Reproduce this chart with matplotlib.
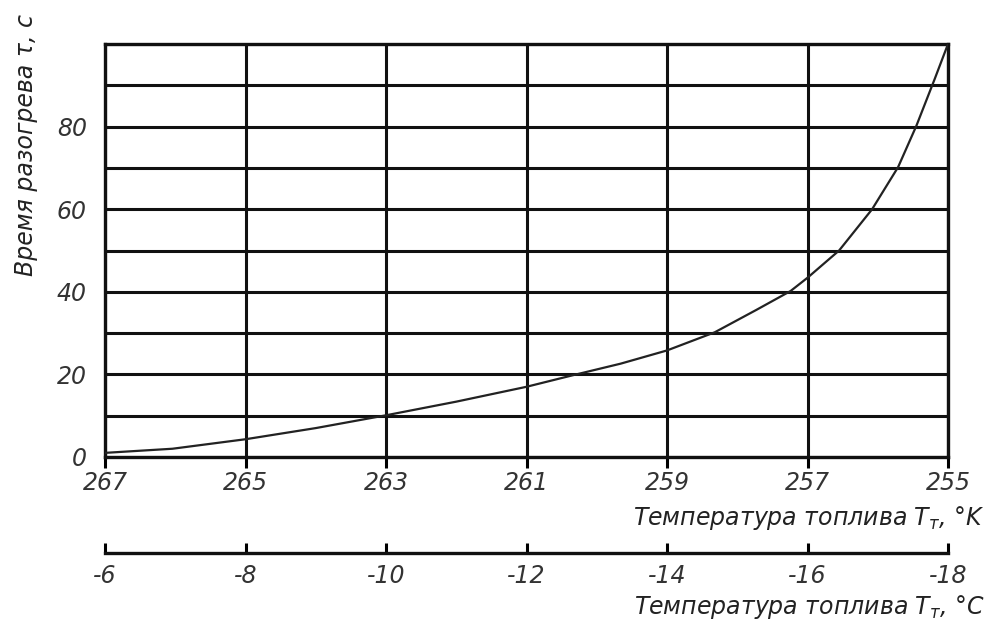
import numpy as np
import matplotlib
matplotlib.use("Agg")
from matplotlib import pyplot as plt

temp_k = [267, 266.04, 265, 264, 263, 262, 261, 260.34, 259.66, 259, 258.32,
          257.73, 257.24, 257, 256.55, 256.08, 255.71, 255.45, 255.19, 255]
tau = [1.0, 2.0, 4.3, 7.0, 10.1, 13.4, 17.0, 19.8, 22.6, 25.8, 30.2,
       35.6, 40.2, 43.4, 50.0, 60.0, 70.2, 80.2, 91.5, 100.0]
k_ticks = [267, 265, 263, 261, 259, 257, 255]
c_ticks = [-6, -8, -10, -12, -14, -16, -18]
y_labels = [0, 20, 40, 60, 80]

plt.rcParams['font.family'] = ['DejaVu Sans']
plt.rcParams['mathtext.fontset'] = 'custom'
plt.rcParams['mathtext.it'] = 'DejaVu Sans:italic'
plt.rcParams['mathtext.rm'] = 'DejaVu Sans'

W, H = 993, 630
fig = plt.figure(figsize=(W/100, H/100), dpi=100)
L, R, T, B = 105, 948, 44, 457
ax = fig.add_axes([L/W, 1-B/H, (R-L)/W, (B-T)/H])

ax.plot(temp_k, tau, color='#222222', lw=1.6, zorder=3)
ax.set_xlim(267, 255)
ax.set_ylim(0, 100)
ax.set_xticks(k_ticks)
ax.set_yticks(np.arange(0, 101, 10))
ax.set_yticklabels([str(v) if v in y_labels else '' for v in np.arange(0, 101, 10)])
ax.grid(True, color='#111111', lw=2.2)
for s in ax.spines.values():
    s.set_linewidth(2.4)
    s.set_color('#111111')
ax.tick_params(axis='y', length=0, pad=13, labelsize=17, labelcolor='#333333')
ax.tick_params(axis='x', length=8, width=2.2, pad=2, labelsize=17, labelcolor='#333333')
for lab in ax.get_xticklabels() + ax.get_yticklabels():
    lab.set_style('italic')

ax.set_ylabel('Время разогрева τ, с', fontsize=17, style='italic', color='#222222')
ax.yaxis.set_label_coords(-67/(R-L), 1 - (145-T)/(B-T))

fig.text(985/W, 1-518/H, 'Температура топлива $T_т$, °K', ha='right', va='center',
         fontsize=17, style='italic', color='#222222')

# second scale in degrees Celsius
ax2 = fig.add_axes([L/W, 1-553/H, (R-L)/W, 0.0001])
ax2.set_xlim(-6, -18)
ax2.set_xticks(c_ticks)
ax2.set_xticklabels(['-%d' % -v for v in c_ticks])
ax2.set_yticks([])
for k in ['top', 'left', 'right']:
    ax2.spines[k].set_visible(False)
ax2.spines['bottom'].set_linewidth(2.4)
ax2.spines['bottom'].set_color('#111111')
ax2.tick_params(axis='x', direction='in', length=7, width=2.2, pad=8,
                labelsize=17, labelcolor='#333333')
for lab in ax2.get_xticklabels():
    lab.set_style('italic')

fig.text(985/W, 1-607/H, 'Температура топлива $T_т$, °C', ha='right', va='center',
         fontsize=17, style='italic', color='#222222')

fig.savefig('out.png', dpi=100)
